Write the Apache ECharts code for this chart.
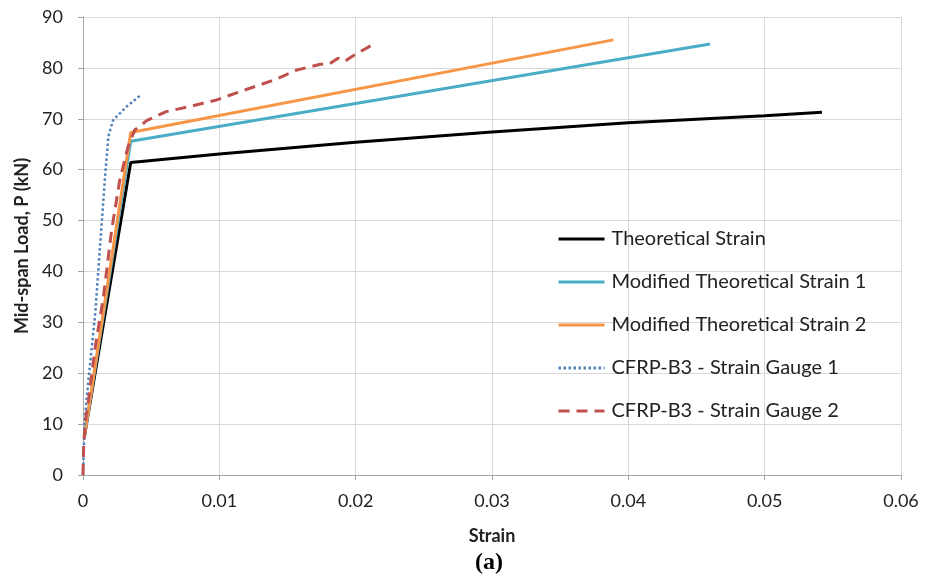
<!DOCTYPE html>
<html>
<head>
<meta charset="utf-8">
<script src="https://cdn.jsdelivr.net/npm/echarts@6/dist/echarts.min.js"></script>
<style>
  html, body { margin: 0; padding: 0; background: #fff; }
  #chart { width: 935px; height: 583px; }
</style>
</head>
<body>
<div id="chart"></div>
<script>
// x = strain, y = mid-span load (kN)
const theoretical = [
  [0.0001, 7.5], [0.0035, 61.4], [0.01, 63.1], [0.02, 65.4],
  [0.03, 67.4], [0.04, 69.2], [0.05, 70.6], [0.0542, 71.3]
]
const modified1 = [[0.0001, 7.5], [0.0035, 65.6], [0.0460, 84.7]]
const modified2 = [[0.0001, 7.5], [0.0035, 67.3], [0.0389, 85.5]]
const gauge1 = [
  [0, 0], [0.00003, 3], [0.00015, 11.5], [0.0004, 18.7], [0.0009, 31.8],
  [0.00125, 44.9], [0.0016, 58], [0.00186, 66.5], [0.0022, 69.7],
  [0.0032, 72.4], [0.0043, 74.8]
]
const gauge2 = [
  [0, 0], [0.00005, 6], [0.0002, 11], [0.0004, 14.7], [0.0009, 25.2],
  [0.0015, 35], [0.0021, 48.1], [0.0027, 58], [0.0033, 64.5],
  [0.0038, 67.8], [0.0047, 69.7], [0.0061, 71.4], [0.0078, 72.4],
  [0.0098, 73.7], [0.0118, 75.6], [0.014, 77.6], [0.0157, 79.6],
  [0.0174, 80.7], [0.0181, 80.8], [0.0187, 81.9], [0.0192, 81.3],
  [0.0197, 82.2], [0.0212, 84.5]
]
const seriesNames = [
  'Theoretical Strain',
  'Modified Theoretical Strain 1',
  'Modified Theoretical Strain 2',
  'CFRP-B3 - Strain Gauge 1',
  'CFRP-B3 - Strain Gauge 2'
]
const xTicks = [0, 0.01, 0.02, 0.03, 0.04, 0.05, 0.06]
const yTicks = [0, 10, 20, 30, 40, 50, 60, 70, 80, 90]

const font = 'Lato, "Open Sans", sans-serif'
const gridColor = '#d9d9d9'
const axisColor = '#a6a6a6'

const chart = echarts.init(document.getElementById('chart'))

const lineSeries = (name, data, color, width, type) => ({
  name,
  type: 'line',
  data,
  showSymbol: false,
  symbol: 'none',
  lineStyle: { color, width, type },
  itemStyle: { color }
})

chart.setOption({
  animation: false,
  grid: { left: 83, right: 34, top: 17, bottom: 108, outerBoundsMode: 'none', containLabel: false },
  legend: {
    orient: 'vertical',
    left: 557,
    top: 229,
    padding: 0,
    itemGap: 23,
    itemWidth: 46,
    itemHeight: 20,
    itemStyle: { opacity: 0 },
    lineStyle: { width: 3 },
    textStyle: { fontFamily: font, fontSize: 20, color: '#222', padding: [0, 0, 0, 2] },
    data: seriesNames
  },
  xAxis: {
    type: 'value',
    min: xTicks[0],
    max: xTicks[xTicks.length - 1],
    interval: 0.01,
    name: 'Strain',
    nameLocation: 'middle',
    nameGap: 52,
    nameTextStyle: { fontFamily: font, fontSize: 18, fontWeight: 'bold', color: '#222' },
    axisLine: { lineStyle: { color: axisColor, width: 1 } },
    axisTick: { show: true, length: 5, lineStyle: { color: axisColor } },
    splitLine: { show: true, lineStyle: { color: gridColor, width: 1 } },
    axisLabel: {
      fontFamily: font, fontSize: 18, color: '#222', margin: 17,
      formatter: v => String(+v.toFixed(2))
    }
  },
  yAxis: {
    type: 'value',
    min: yTicks[0],
    max: yTicks[yTicks.length - 1],
    interval: 10,
    name: 'Mid-span Load, P (kN)',
    nameLocation: 'middle',
    nameGap: 51,
    nameTextStyle: { fontFamily: font, fontSize: 18, fontWeight: 'bold', color: '#222' },
    axisLine: { show: true, lineStyle: { color: axisColor, width: 1 } },
    axisTick: { show: true, length: 5, lineStyle: { color: axisColor } },
    splitLine: { show: true, lineStyle: { color: gridColor, width: 1 } },
    axisLabel: { fontFamily: font, fontSize: 18, color: '#222', margin: 20 }
  },
  graphic: [{
    type: 'text',
    x: 489,
    y: 563,
    style: {
      text: '(a)',
      font: 'bold 24px "Liberation Serif", "DejaVu Serif", serif',
      fill: '#000',
      textAlign: 'center',
      textVerticalAlign: 'middle'
    }
  }],
  series: [
    lineSeries(seriesNames[0], theoretical, '#000000', 3, 'solid'),
    lineSeries(seriesNames[1], modified1, '#4bacc6', 3, 'solid'),
    lineSeries(seriesNames[2], modified2, '#f79646', 3, 'solid'),
    lineSeries(seriesNames[3], gauge1, '#4f81bd', 2.5, [2.5, 2.5]),
    lineSeries(seriesNames[4], gauge2, '#c0504d', 3, [11, 7])
  ]
})
</script>
</body>
</html>
